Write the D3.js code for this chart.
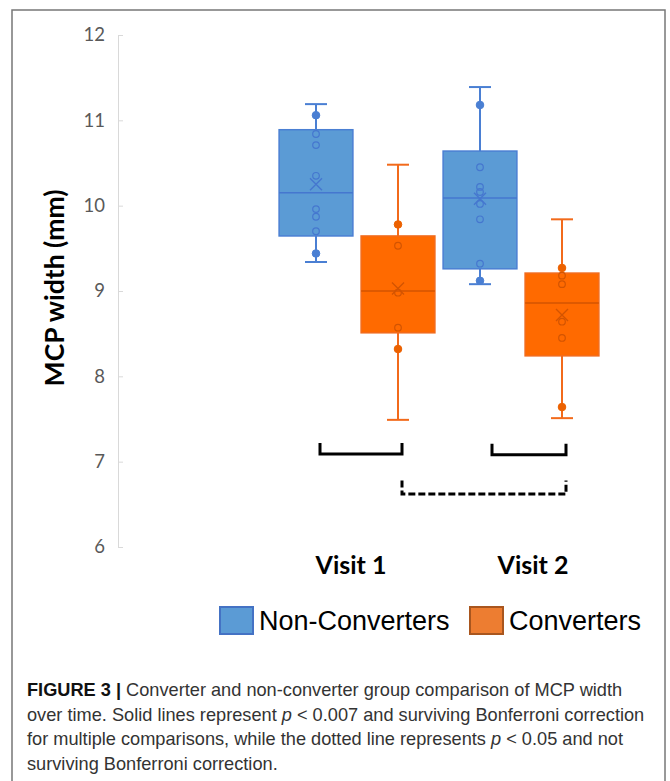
<!DOCTYPE html>
<html>
<head>
<meta charset="utf-8">
<script src="https://cdn.jsdelivr.net/npm/d3@7"></script>
<style>
  body { margin: 0; background: #fff; }
  svg { display: block; }
</style>
</head>
<body>
<svg id="chart" width="670" height="781"></svg>
<script>
// categories
const visits = ["Visit 1", "Visit 2"];
const groups = ["Non-Converters", "Converters"];
const yTicks = [6, 7, 8, 9, 10, 11, 12];

// box stats per visit: [min, q1, median, q3, max, mean]
const nonConvBox = [
  [9.34, 9.645, 10.15, 10.89, 11.19, 10.25],
  [9.08, 9.26, 10.09, 10.64, 11.39, 10.08]
];
const convBox = [
  [7.49, 8.51, 9.0, 9.645, 10.48, 9.03],
  [7.51, 8.24, 8.86, 9.21, 9.84, 8.72]
];

// individual points (hollow = inner points, filled = whisker-end points)
const nonConvInner = [
  [10.84, 10.71, 10.35, 9.96, 9.87, 9.70],
  [10.45, 10.22, 10.16, 10.02, 9.84, 9.32]
];
const nonConvFilled = [[11.06, 9.44], [11.18, 9.12]];
const convInner = [
  [9.53, 8.98, 8.57],
  [9.18, 9.08, 8.64, 8.45]
];
const convFilled = [[9.78, 8.32], [9.27, 7.64]];

// comparison brackets: [visitA, groupA, visitB, groupB, top, bottom, dashed]
const comparisons = [
  ["Visit 1", "Non-Converters", "Visit 1", "Converters", 7.22, 7.09, false],
  ["Visit 2", "Non-Converters", "Visit 2", "Converters", 7.21, 7.08, false],
  ["Visit 1", "Converters", "Visit 2", "Converters", 6.78, 6.62, true]
];

const caption = [
  [{ t: "FIGURE 3 | ", b: true }, { t: "Converter and non-converter group comparison of MCP width" }],
  [{ t: "over time. Solid lines represent " }, { t: "p", i: true }, { t: " < 0.007 and surviving Bonferroni correction" }],
  [{ t: "for multiple comparisons, while the dotted line represents " }, { t: "p", i: true }, { t: " < 0.05 and not" }],
  [{ t: "surviving Bonferroni correction." }]
];

const svg = d3.select("#chart");

// outer frame
svg.append("rect")
  .attr("x", 12).attr("y", 10)
  .attr("width", 653).attr("height", 800)
  .attr("fill", "none")
  .attr("stroke", "#777")
  .attr("stroke-width", 1.5);

const y = d3.scaleLinear().domain([6, 12]).range([547, 35]);
const x = d3.scaleBand().domain(visits).range([275, 603]);
const xg = d3.scaleBand().domain(groups).range([0, x.bandwidth()])
  .paddingInner(0.1).paddingOuter(0.05);

const cx = (v, g) => x(v) + xg(g) + xg.bandwidth() / 2;

// y axis
const yAxis = svg.append("g")
  .attr("transform", "translate(118,0)")
  .call(d3.axisLeft(y).tickValues(yTicks).tickFormat(d3.format("d"))
    .tickSize(-5).tickSizeOuter(0).tickPadding(13));
yAxis.select(".domain").attr("stroke", "#d9d9d9");
yAxis.selectAll(".tick line").attr("stroke", "#d9d9d9");
yAxis.selectAll("text")
  .attr("fill", "#595959")
  .style("font-family", "Lato, 'Open Sans', sans-serif")
  .style("font-size", "18.5px");

svg.append("text")
  .attr("transform", "translate(64,288) rotate(-90)")
  .attr("text-anchor", "middle")
  .style("font-family", "Lato, 'Open Sans', sans-serif")
  .style("font-weight", "bold")
  .style("font-size", "26.5px")
  .attr("fill", "#000")
  .text("MCP width (mm)");

const styles = {
  "Non-Converters": { fill: "#5b9bd5", stroke: "#4a7fd3", mark: "#4577cf", dot: "#4a7fd3", legendFill: "#5b9bd5", legendStroke: "#4472c4" },
  "Converters": { fill: "#ff6a00", stroke: "#f26a1b", mark: "#d35400", dot: "#ec6100", legendFill: "#ed7d31", legendStroke: "#a9561e" }
};

function drawBoxes(group, boxes, inner, filled) {
  const st = styles[group];
  const w = xg.bandwidth();
  visits.forEach((v, i) => {
    const [mn, q1, md, q3, mx, mean] = boxes[i];
    const c = cx(v, group);
    const g = svg.append("g");
    // whiskers
    g.append("line").attr("x1", c).attr("x2", c).attr("y1", y(mx)).attr("y2", y(q3))
      .attr("stroke", st.stroke).attr("stroke-width", 2);
    g.append("line").attr("x1", c).attr("x2", c).attr("y1", y(q1)).attr("y2", y(mn))
      .attr("stroke", st.stroke).attr("stroke-width", 2);
    [mn, mx].forEach(val => {
      g.append("line").attr("x1", c - 11).attr("x2", c + 11).attr("y1", y(val)).attr("y2", y(val))
        .attr("stroke", st.stroke).attr("stroke-width", 2);
    });
    // box
    g.append("rect")
      .attr("x", c - w / 2).attr("y", y(q3))
      .attr("width", w).attr("height", y(q1) - y(q3))
      .attr("fill", st.fill).attr("stroke", st.stroke).attr("stroke-width", 1.5);
    g.append("line").attr("x1", c - w / 2).attr("x2", c + w / 2).attr("y1", y(md)).attr("y2", y(md))
      .attr("stroke", st.mark).attr("stroke-width", 1.5);
    // inner points
    g.selectAll("circle.inner").data(inner[i]).enter().append("circle")
      .attr("class", "inner")
      .attr("cx", c).attr("cy", d => y(d)).attr("r", 3.3)
      .attr("fill", "none").attr("stroke", st.mark).attr("stroke-width", 1.2);
    g.selectAll("circle.filled").data(filled[i]).enter().append("circle")
      .attr("class", "filled")
      .attr("cx", c).attr("cy", d => y(d)).attr("r", 3.8)
      .attr("fill", st.dot).attr("stroke", st.dot);
    // mean marker
    const ym = y(mean), s = 6;
    g.append("path")
      .attr("d", `M${c - s},${ym - s}L${c + s},${ym + s}M${c - s},${ym + s}L${c + s},${ym - s}`)
      .attr("stroke", st.mark).attr("stroke-width", 1.4).attr("fill", "none");
  });
}

drawBoxes("Non-Converters", nonConvBox, nonConvInner, nonConvFilled);
drawBoxes("Converters", convBox, convInner, convFilled);

// brackets
comparisons.forEach(([va, ga, vb, gb, top, bot, dashed]) => {
  const x1 = cx(va, ga) + (va === "Visit 2" && ga === "Non-Converters" ? 12 : 4);
  const x2 = cx(vb, gb) + 4;
  svg.append("path")
    .attr("d", `M${x1},${y(top)}V${y(bot)}H${x2}V${y(top)}`)
    .attr("fill", "none")
    .attr("stroke", "#000")
    .attr("stroke-width", 3)
    .attr("stroke-dasharray", dashed ? "7,3" : null);
});

// visit labels
svg.selectAll("text.visit").data(visits).enter().append("text")
  .attr("class", "visit")
  .attr("x", (d, i) => x(d) + x.bandwidth() / 2 + (i === 0 ? -6 : 12))
  .attr("y", 574)
  .attr("text-anchor", "middle")
  .style("font-family", "Lato, 'Open Sans', sans-serif")
  .style("font-weight", "bold")
  .style("font-size", "25px")
  .attr("fill", "#000")
  .text(d => d);

// legend
const legendX = [220, 470];
groups.forEach((g, i) => {
  const st = styles[g];
  svg.append("rect")
    .attr("x", legendX[i]).attr("y", 607)
    .attr("width", 33).attr("height", 27)
    .attr("fill", st.legendFill).attr("stroke", st.legendStroke).attr("stroke-width", 2);
  svg.append("text")
    .attr("x", legendX[i] + 39).attr("y", 630)
    .style("font-family", "'Liberation Sans', Arial, sans-serif")
    .style("font-size", "27px")
    .attr("fill", "#000")
    .text(g);
});

// caption
caption.forEach((line, i) => {
  const t = svg.append("text")
    .attr("x", 27).attr("y", 696 + i * 24.5)
    .style("font-family", "'Liberation Sans', Arial, sans-serif")
    .style("font-size", "18.2px")
    .attr("fill", "#333");
  line.forEach(seg => {
    t.append("tspan")
      .attr("font-weight", seg.b ? "bold" : null)
      .attr("font-style", seg.i ? "italic" : null)
      .attr("fill", seg.b ? "#111" : null)
      .text(seg.t);
  });
});
</script>
</body>
</html>
